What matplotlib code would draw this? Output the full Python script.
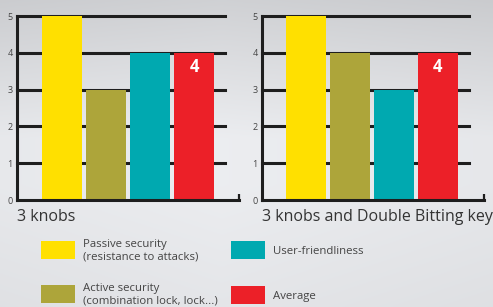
import numpy as np
import matplotlib
matplotlib.use('Agg')
import matplotlib.pyplot as plt
from matplotlib.patches import Rectangle

plt.rcParams['font.family'] = ['Open Sans', 'DejaVu Sans']

# ---- data ----
series = ['Passive security\n(resistance to attacks)',
          'Active security\n(combination lock, lock...)',
          'User-friendliness',
          'Average']
colors = ['#FFE000', '#ADA53A', '#00A9B0', '#EC2028']
titles = ['3 knobs', '3 knobs and Double Bitting key']
values_knobs = [5, 3, 4, 4]
values_dbk = [5, 4, 3, 4]
yticks = [0, 1, 2, 3, 4, 5]

W, H = 493, 307
fig = plt.figure(figsize=(W / 100, H / 100), dpi=100)

# background gradient
bg = fig.add_axes([0, 0, 1, 1], zorder=-10)
yy = np.linspace(0, 1, 200)[:, None]
xx = np.linspace(0, 1, 300)[None, :]
base = 0.80 + 0.11 * np.clip(yy / 0.45, 0, 1) - 0.03 * np.clip((yy - 0.6) / 0.4, 0, 1)
base = base + 0.02 * (1 - np.abs(xx - 0.45) * 2)
img = np.dstack([base - 0.005, base, base + 0.012])
bg.imshow(np.clip(img, 0, 1), aspect='auto', extent=[0, 1, 0, 1], origin='upper')
bg.axis('off')

positions = [[17/W, 107/H, 222/W, 184/H],
             [262/W, 107/H, 222/W, 184/H]]
xlims = [(-1.02, 4.02), (-1.0, 4.05)]
for pos, xl, vals, title in zip(positions, xlims, [values_knobs, values_dbk], titles):
    ax = fig.add_axes(pos)
    ax.patch.set_alpha(0)
    x = np.arange(len(vals))
    ax.set_xlim(xl)
    ax.set_ylim(0, 5)
    gx = (3.70 - xl[0]) / (xl[1] - xl[0])
    for t in yticks[1:]:
        ax.axhline(t, xmin=0, xmax=gx, color='#1e1e1e', lw=2.2, zorder=1, clip_on=False)
    ax.bar(x, vals, width=40/44, color=colors, zorder=2)
    ax.text(x[3], vals[3] - 0.38, str(vals[3]), color='white', fontsize=12,
            fontweight='bold', ha='center', va='center', zorder=3)
    for s in ['top', 'right']:
        ax.spines[s].set_visible(False)
    for s in ['left', 'bottom']:
        ax.spines[s].set_linewidth(2.2)
        ax.spines[s].set_color('#1e1e1e')
        ax.spines[s].set_zorder(4)
    ax.plot([1, 1], [0, 0.03], transform=ax.transAxes, color='#1e1e1e', lw=1.6,
            clip_on=False, solid_capstyle='butt')
    ax.set_xticks([])
    ax.set_yticks(yticks)
    ax.tick_params(axis='y', length=0, pad=3, labelsize=6.5, labelcolor='#444444')
    ax.text(0, -0.092, title, transform=ax.transAxes, fontsize=11.5, color='#333333',
            ha='left', va='center')

# legend, 2 columns x 2 rows (swatch left edge, swatch centre in px)
leg_x = [41, 41, 231, 231]
leg_y = [250, 294, 250, 295]
for lx, ly, c, lab in zip(leg_x, leg_y, colors, series):
    fig.patches.append(Rectangle((lx / W, 1 - (ly + 9) / H), 34 / W, 18 / H,
                                 transform=fig.transFigure, facecolor=c, edgecolor='none'))
    fig.text((lx + 42) / W, 1 - (ly + 1) / H, lab, fontsize=8.2, color='#444444',
             ha='left', va='center', linespacing=1.2)

fig.savefig('out.png', dpi=100)
